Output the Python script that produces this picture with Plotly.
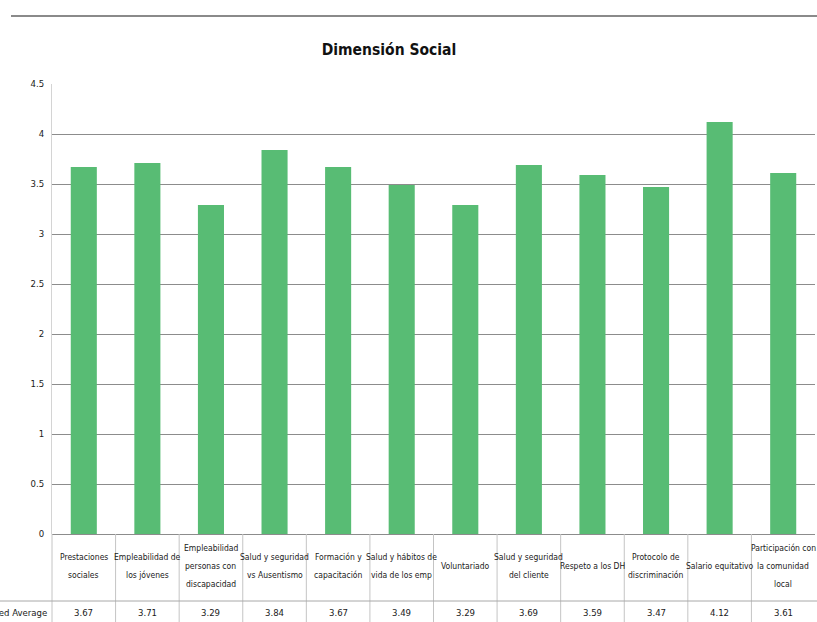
import plotly.graph_objects as go

# ---- data ----
categories = [
    "Prestaciones<br>sociales",
    "Empleabilidad de<br>los jóvenes",
    "Empleabilidad<br>personas con<br>discapacidad",
    "Salud y seguridad<br>vs Ausentismo",
    "Formación y<br>capacitación",
    "Salud y hábitos de<br>vida de los emp",
    "Voluntariado",
    "Salud y seguridad<br>del cliente",
    "Respeto a los DH",
    "Protocolo de<br>discriminación",
    "Salario equitativo",
    "Participación con<br>la comunidad<br>local",
]
values = [3.67, 3.71, 3.29, 3.84, 3.67, 3.49, 3.29, 3.69, 3.59, 3.47, 4.12, 3.61]
value_labels = ["3.67", "3.71", "3.29", "3.84", "3.67", "3.49", "3.29", "3.69", "3.59", "3.47", "4.12", "3.61"]
row_label = "Weighted Average"
title_text = "Dimensión Social"
y_ticks = [0, 0.5, 1, 1.5, 2, 2.5, 3, 3.5, 4, 4.5]
y_tick_text = ["0", "0.5", "1", "1.5", "2", "2.5", "3", "3.5", "4", "4.5"]

# ---- layout geometry (pixels) ----
W, H = 817, 622
L, R, T, B = 52, 2, 84, 88
pw = W - L - R
ph = H - T - B
base = H - B  # pixel y of value 0

FONT = "DejaVu Sans Condensed, sans-serif"
TXT = "#1a1a1a"


def xp(px):
    return (px - L) / pw


def yp(py):
    return (base - py) / ph


n = len(categories)
xs = list(range(n))

fig = go.Figure(
    go.Bar(x=xs, y=values, marker_color="#58bc74", marker_line_width=0, width=0.41,
           hoverinfo="y")
)

shapes = []
annotations = []

# top separator line
shapes.append(dict(type="line", xref="paper", yref="paper", x0=xp(11), x1=xp(817),
                   y0=yp(16), y1=yp(16), line=dict(color="#8a8a8a", width=2)))

# table vertical lines
cw = pw / n
for k in range(n):
    x = xp(L + k * cw)
    shapes.append(dict(type="line", xref="paper", yref="paper", x0=x, x1=x,
                       y0=yp(base), y1=yp(H + 2), line=dict(color="#c4c4c4", width=1)))
# row separator
shapes.append(dict(type="line", xref="paper", yref="paper", x0=xp(0), x1=xp(W),
                   y0=yp(601), y1=yp(601), line=dict(color="#a8a8a8", width=1)))

# category labels (line by line for spacing control)
row_center = 566
spacing = 18
for i, cat in enumerate(categories):
    lines = cat.split("<br>")
    m = len(lines)
    for j, ln in enumerate(lines):
        py = row_center + (j - (m - 1) / 2) * spacing
        annotations.append(dict(x=i, xref="x", y=yp(py), yref="paper", text=ln,
                                showarrow=False, xanchor="center", yanchor="middle",
                                font=dict(family=FONT, size=8.5, color=TXT)))
    annotations.append(dict(x=i, xref="x", y=yp(612), yref="paper", text=value_labels[i],
                            showarrow=False, xanchor="center", yanchor="middle",
                            font=dict(family=FONT, size=9.5, color=TXT)))

annotations.append(dict(x=xp(49), xref="paper", y=yp(612), yref="paper", text=row_label,
                        showarrow=False, xanchor="right", yanchor="middle", align="right",
                        font=dict(family=FONT, size=9.5, color=TXT)))

fig.update_layout(
    width=W, height=H,
    margin=dict(l=L, r=R, t=T, b=B, pad=0),
    paper_bgcolor="white", plot_bgcolor="white",
    showlegend=False,
    title=dict(text="<b>" + title_text + "</b>", x=389 / W, xanchor="center",
               y=1 - 50 / H, yanchor="middle", yref="container",
               font=dict(family=FONT, size=15.5, color="#111")),
    xaxis=dict(range=[-0.5, n - 0.5], showticklabels=False, showgrid=False,
               zeroline=False, showline=False, ticks="", fixedrange=True),
    yaxis=dict(range=[0, 4.5], tickvals=y_ticks, ticktext=y_tick_text,
               showgrid=True, gridcolor="#8c8c8c", gridwidth=1,
               zeroline=True, zerolinecolor="#8c8c8c", zerolinewidth=1,
               showline=True, linecolor="#d4d4d4", linewidth=1,
               ticks="outside", ticklen=5, tickcolor="rgba(0,0,0,0)",
               tickfont=dict(family=FONT, size=9.5, color=TXT), fixedrange=True),
    shapes=shapes,
    annotations=annotations,
    bargap=0.59,
)

fig.write_html("out.html")
